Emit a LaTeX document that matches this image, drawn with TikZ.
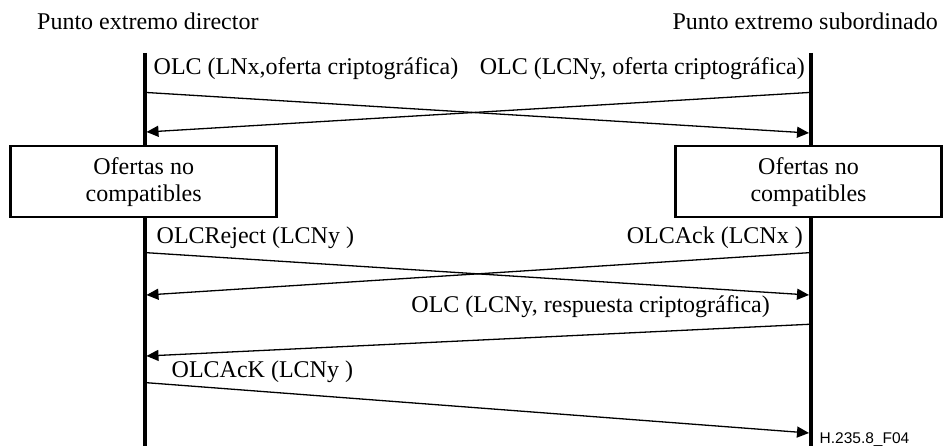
\documentclass[tikz,border=0pt]{standalone}
\usepackage{fontspec}
\setmainfont{Liberation Serif}
\newfontfamily\figidfont{Liberation Sans}
\usetikzlibrary{arrows.meta}
\begin{document}
\begin{tikzpicture}[x=1pt,y=-1pt,
  lifeline/.style={line width=4pt},
  msg/.style={line width=1.3pt,-{Triangle[length=12pt,width=11pt]}},
  lbl/.style={inner sep=0pt,font=\fontsize{24}{27}\selectfont},
  statebox/.style={draw,line width=2.6pt,fill=white,minimum width=266pt,minimum height=71pt,align=center,inner sep=0pt,font=\fontsize{24}{27}\selectfont}]
\useasboundingbox (0,0) rectangle (943,446);
% headers
\node[lbl,anchor=base west] (dir) at (37,30) {Punto extremo director};
\node[lbl,anchor=base east] (sub) at (938,30) {Punto extremo subordinado};
% lifelines
\coordinate (Ltop) at (144.5,53);
\coordinate (Lbot) at (144.5,446);
\coordinate (Rtop) at (811,53);
\coordinate (Rbot) at (811,446);
\draw[lifeline] (Ltop) -- (Lbot);
\draw[lifeline] (Rtop) -- (Rbot);
% state boxes
\node[statebox] (boxL) at (143.7,181.7) {Ofertas no\\compatibles};
\node[statebox] (boxR) at (808.5,181.7) {Ofertas no\\compatibles};
% message end points
\coordinate (m1s) at (146.5,92.5);
\coordinate (m1e) at (809,133);
\coordinate (m2s) at (809,92.5);
\coordinate (m2e) at (146.5,132);
\coordinate (m3s) at (146.5,252.7);
\coordinate (m3e) at (809,295);
\coordinate (m4s) at (809,252.7);
\coordinate (m4e) at (146.5,295);
\coordinate (m5s) at (809,324.3);
\coordinate (m5e) at (146.5,356);
\coordinate (m6s) at (146.5,382.7);
\coordinate (m6e) at (809,433);
% messages
\draw[msg] (m1s) -- (m1e);
\draw[msg] (m2s) -- (m2e);
\draw[msg] (m3s) -- (m3e);
\draw[msg] (m4s) -- (m4e);
\draw[msg] (m5s) -- (m5e);
\draw[msg] (m6s) -- (m6e);
% labels
\node[lbl,anchor=base west] (l1) at (153.5,75) {OLC (LNx,oferta criptográfica)};
\node[lbl,anchor=base east] (l2) at (805,75) {OLC (LCNy, oferta criptográfica)};
\node[lbl,anchor=base west] (l3) at (156.5,244) {OLCReject (LCNy )};
\node[lbl,anchor=base east] (l4) at (803,244) {OLCAck (LCNx )};
\node[lbl,anchor=base east] (l5) at (770,313) {OLC (LCNy, respuesta criptográfica)};
\node[lbl,anchor=base west] (l6) at (171.5,378) {OLCAcK (LCNy )};
\node[anchor=base west,inner sep=0pt,font=\figidfont\fontsize{15.5}{18}\selectfont] (fid) at (819.5,443) {H.235.8\_F04};
\end{tikzpicture}
\end{document}
